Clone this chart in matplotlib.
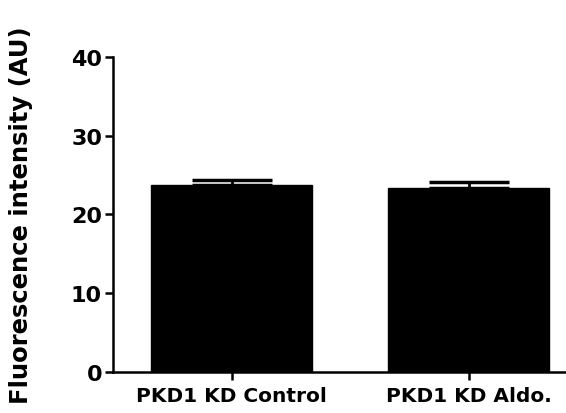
import matplotlib.pyplot as plt

groups = ["PKD1 KD Control", "PKD1 KD Aldo."]
means = [23.7, 23.4]
sem = [0.7, 0.7]

plt.rcParams['font.family'] = ['DejaVu Sans']
plt.rcParams['font.weight'] = 'bold'

fig = plt.figure(figsize=(5.66, 4.14), dpi=100)
ax = fig.add_axes([0.2, 0.099, 0.8, 0.761])

x = range(len(groups))
ax.bar(x, means, width=0.68, color="black", edgecolor="black")
ax.errorbar(x, means, yerr=[[0, 0], sem], fmt="none", ecolor="black",
            elinewidth=2, capsize=29, capthick=2.5)

ax.set_ylim(0, 40)
ax.set_xlim(-0.5, 1.41)
ax.set_yticks([0, 10, 20, 30, 40])
ax.set_xticks(list(x))
ax.set_xticklabels(groups, fontsize=14.5, fontweight="bold")
ax.tick_params(axis="y", labelsize=16, width=1.8, length=6, pad=2)
ax.tick_params(axis="x", width=1.8, length=6, pad=4)
for lbl in ax.get_yticklabels():
    lbl.set_fontweight("bold")
ax.set_ylabel("Fluorescence intensity (AU)", fontsize=17.5, fontweight="bold")
ax.yaxis.set_label_coords(-0.177, 0.5)

for side in ["top", "right"]:
    ax.spines[side].set_visible(False)
for side in ["left", "bottom"]:
    ax.spines[side].set_linewidth(1.8)

plt.savefig("out.png", dpi=100)
